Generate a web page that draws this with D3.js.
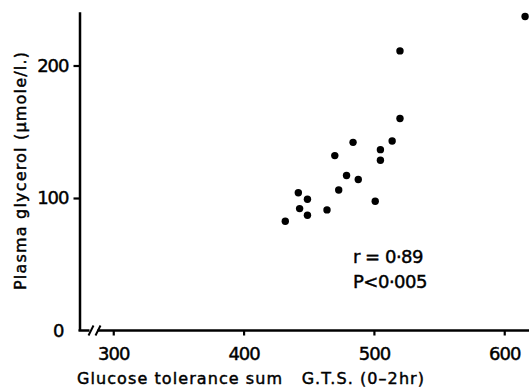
<!DOCTYPE html>
<html><head><meta charset="utf-8">
<script src="https://cdn.jsdelivr.net/npm/d3@7"></script>
<style>
html,body{margin:0;padding:0;background:#fff;}
svg{display:block;}
text{font-family:"DejaVu Sans",sans-serif;fill:#000;stroke:#000;stroke-width:0.45px;}
</style></head>
<body>
<svg id="c" width="529" height="388"></svg>
<script>
// Data
const gts      = [616, 520, 520, 514, 484, 505, 505, 470, 479, 488, 473, 442, 449, 501, 443, 464, 449, 432];
const glycerol = [237, 211, 160, 143, 142, 136.5, 128.5, 132, 117, 114, 106, 104, 99, 97.5, 92, 91, 87, 82.5];
const xTicks = [300, 400, 500, 600];
const yTicks = [0, 100, 200];
const xTitle = "Glucose tolerance sum\u00a0\u00a0\u00a0G.T.S. (0–2hr)";
const yTitle = "Plasma glycerol (\u03bcmole/l.)";
const stats = ["r = 0·89", "P<0·005"];

const svg = d3.select("#c");
const x = d3.scaleLinear().domain([274.1, 619]).range([79.5, 529]);
const y = d3.scaleLinear().domain([0, 240.6]).range([330.5, 11.7]);

// Y axis
const ya = svg.append("g").attr("transform", `translate(${x(274.1)},0)`)
  .call(d3.axisLeft(y).tickValues(yTicks).tickSize(6).tickPadding(5).tickSizeOuter(0).tickFormat(d3.format("d")));
ya.select(".domain").attr("stroke-width", 2.5);
ya.selectAll(".tick line").attr("stroke-width", 2.2);
ya.selectAll(".tick text").attr("font-size", 18).attr("letter-spacing", -1)
  .attr("dx", d => d === 0 ? -5 : 0);
ya.selectAll(".tick").filter(d => d === 0).select("line").remove();

// X axis (with break)
const xa = svg.append("g").attr("transform", `translate(0,${y(0)})`)
  .call(d3.axisBottom(x).tickValues(xTicks).tickSize(5).tickPadding(12).tickSizeOuter(0));
xa.select(".domain").remove();
xa.selectAll(".tick line").attr("stroke-width", 2.2);
xa.selectAll(".tick text").attr("font-size", 18).attr("letter-spacing", -1);

const y0 = y(0), xl = x(274.1);
const ax = svg.append("g").attr("stroke", "#000").attr("fill", "none");
ax.append("line").attr("x1", xl - 1).attr("x2", xl + 10).attr("y1", y0).attr("y2", y0).attr("stroke-width", 2.5);
ax.append("line").attr("x1", xl + 9).attr("x2", xl + 14).attr("y1", y0 + 5).attr("y2", y0 - 5).attr("stroke-width", 2);
ax.append("line").attr("x1", xl + 16).attr("x2", xl + 21).attr("y1", y0 + 5).attr("y2", y0 - 5).attr("stroke-width", 2);
ax.append("line").attr("x1", xl + 18).attr("x2", 529).attr("y1", y0).attr("y2", y0).attr("stroke-width", 2.5);

// Points
svg.append("g").selectAll("circle").data(gts).join("circle")
  .attr("cx", d => x(d)).attr("cy", (d, i) => y(glycerol[i])).attr("r", 3.7).attr("fill", "#000");

// Titles
svg.append("text").attr("x", 77).attr("y", 384).attr("font-size", 16)
  .attr("textLength", 347).attr("lengthAdjust", "spacing").text(xTitle);
svg.append("text").attr("transform", "translate(26,290) rotate(-90)").attr("font-size", 16)
  .attr("textLength", 238).attr("lengthAdjust", "spacing").text(yTitle);

// Stats annotation
svg.append("g").selectAll("text").data(stats).join("text")
  .attr("x", 353).attr("y", (d, i) => 263 + i * 25).attr("font-size", 18).attr("letter-spacing", -0.5)
  .text(d => d);
</script>
</body></html>
